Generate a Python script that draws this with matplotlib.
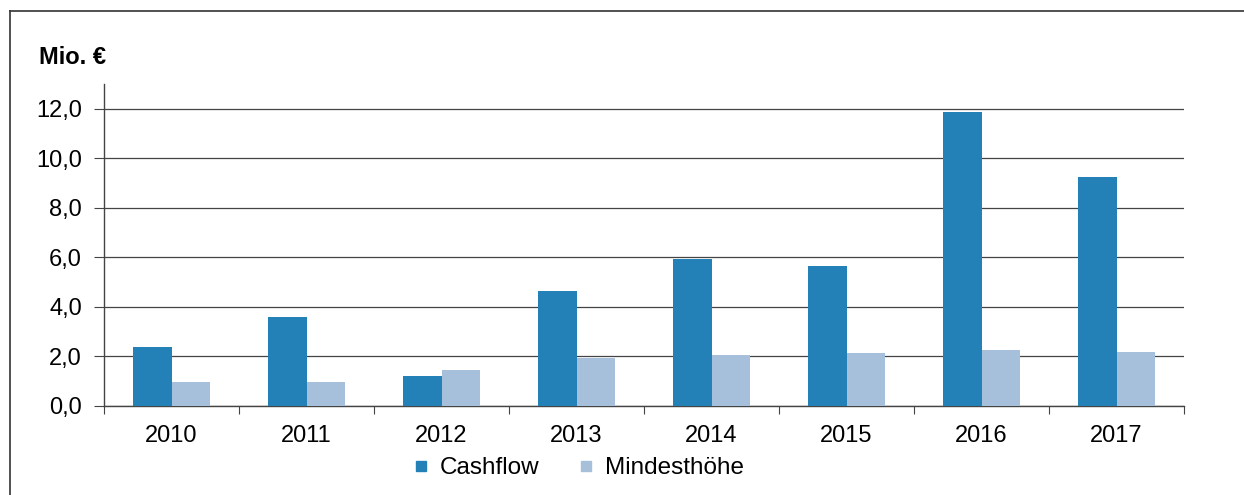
import matplotlib
matplotlib.use('Agg')
import matplotlib.pyplot as plt
from matplotlib.lines import Line2D
import numpy as np

plt.rcParams['font.family'] = ['Liberation Sans', 'DejaVu Sans']

years = ['2010', '2011', '2012', '2013', '2014', '2015', '2016', '2017']
cashflow = [2.4, 3.6, 1.2, 4.65, 5.95, 5.65, 11.85, 9.25]
mindesthoehe = [0.95, 0.95, 1.45, 1.95, 2.05, 2.15, 2.25, 2.2]

c_cash = '#2381b8'
c_min = '#a6c0dc'

fig = plt.figure(figsize=(12.44, 4.95), dpi=100)
ax = fig.add_axes([0.0836, 0.1798, 0.8682, 0.6505])

x = np.arange(len(years))
w = 0.285
ax.bar(x - w / 2, cashflow, w, color=c_cash, zorder=3)
ax.bar(x + w / 2, mindesthoehe, w, color=c_min, zorder=3)

ax.set_xlim(-0.5, len(years) - 0.5)
ax.set_ylim(0, 13)
ax.set_yticks(np.arange(0, 13, 2))
ax.set_yticklabels([f'{v:.1f}'.replace('.', ',') for v in np.arange(0, 13, 2)], fontsize=17)
ax.grid(axis='y', color='#444444', lw=0.9, zorder=0)

# Kategorie-Grenzen als Ticks, Labels in der Mitte
ax.set_xticks(np.arange(-0.5, len(years)), minor=False)
ax.set_xticklabels([])
ax.set_xticks(x, minor=True)
ax.set_xticklabels(years, minor=True, fontsize=17)
ax.tick_params(axis='x', which='major', length=6, color='#444444', direction='out')
ax.tick_params(axis='x', which='minor', length=0, pad=14)
ax.tick_params(axis='y', length=7, color='#444444', pad=9)

for s in ['top', 'right']:
    ax.spines[s].set_visible(False)
for s in ['left', 'bottom']:
    ax.spines[s].set_color('#444444')
    ax.spines[s].set_linewidth(1.0)

fig.text(39 / 1244, 1 - 58 / 495, 'Mio. €', fontsize=17, fontweight='bold', va='center')

handles = [Line2D([], [], marker='s', ls='', color=c_cash, markersize=7),
           Line2D([], [], marker='s', ls='', color=c_min, markersize=7)]
fig.legend(handles, ['Cashflow', 'Mindesthöhe'], loc='center',
           bbox_to_anchor=(577 / 1244, 1 - 468 / 495), ncol=2, frameon=False,
           fontsize=17.5, handletextpad=0.3, columnspacing=1.5, handlelength=0.9)

# Rahmen um die Grafik
fig.add_artist(Line2D([10 / 1244, 1], [1 - 11 / 495, 1 - 11 / 495], color='#333333', lw=1.2))
fig.add_artist(Line2D([10 / 1244, 10 / 1244], [1 - 11 / 495, 0], color='#333333', lw=1.2))

fig.savefig('out.png', dpi=100)
